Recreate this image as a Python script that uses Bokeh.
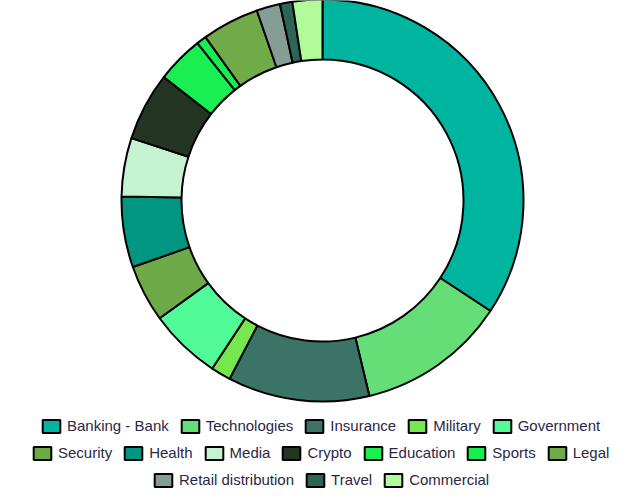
import math
from bokeh.plotting import figure
from bokeh.models import ColumnDataSource, Legend, LegendItem, Range1d
from bokeh.embed import file_html
from bokeh.resources import INLINE

categories = ["Banking - Bank", "Technologies", "Insurance", "Military", "Government",
              "Security", "Health", "Media", "Crypto", "Education", "Sports", "Legal",
              "Retail distribution", "Travel", "Commercial"]
values = [34.3, 12.0, 11.4, 1.6, 5.8, 4.6, 5.7, 4.7, 5.5, 3.8, 0.8, 4.6, 1.9, 1.0, 2.4]
colors = ["#00B5A0", "#66DE78", "#3B7467", "#74E84E", "#50FB98",
          "#6EAA48", "#009682", "#C5F2D0", "#243623", "#1AEF52", "#16F04E", "#71AA48",
          "#859D95", "#2C6556", "#B2FB9A"]
legend_rows = [categories[0:5], categories[5:12], categories[12:15]]

W, H = 643, 500
total = sum(values)
starts, ends = [], []
acc = 0.0
for v in values:
    starts.append(math.pi / 2 - 2 * math.pi * acc / total)
    acc += v
    ends.append(math.pi / 2 - 2 * math.pi * acc / total)

src = ColumnDataSource(dict(cat=categories, val=values, color=colors,
                            start=starts, end=ends))

p = figure(width=W, height=H, output_backend="svg", toolbar_location=None,
           x_range=Range1d(0, W), y_range=Range1d(0, H), min_border=0)
p.axis.visible = False
p.grid.visible = False
p.outline_line_color = None

cx, cy = 322, H - 200
r = p.annular_wedge(x=cx, y=cy, inner_radius=141, outer_radius=201,
                    inner_radius_units="screen", outer_radius_units="screen",
                    start_angle="start", end_angle="end", direction="clock",
                    fill_color="color", line_color="black", line_width=2, source=src)

row_pos = [(40, 66), (31, 39), (152, 12)]
idx = 0
for row, (lx, ly) in zip(legend_rows, row_pos):
    items = []
    for c in row:
        items.append(LegendItem(label=c, renderers=[r], index=idx))
        idx += 1
    leg = Legend(items=items, orientation="horizontal", location=(lx, ly),
                 padding=0, margin=0, spacing=10, border_line_color=None,
                 background_fill_alpha=0, glyph_width=22, glyph_height=16,
                 label_standoff=5, label_height=16, label_text_font="Liberation Sans",
                 label_text_font_size="15px", label_text_color="#2B2745",
                 label_text_baseline="middle")
    p.add_layout(leg, "center")

open("out.html", "w").write(file_html(p, INLINE))
